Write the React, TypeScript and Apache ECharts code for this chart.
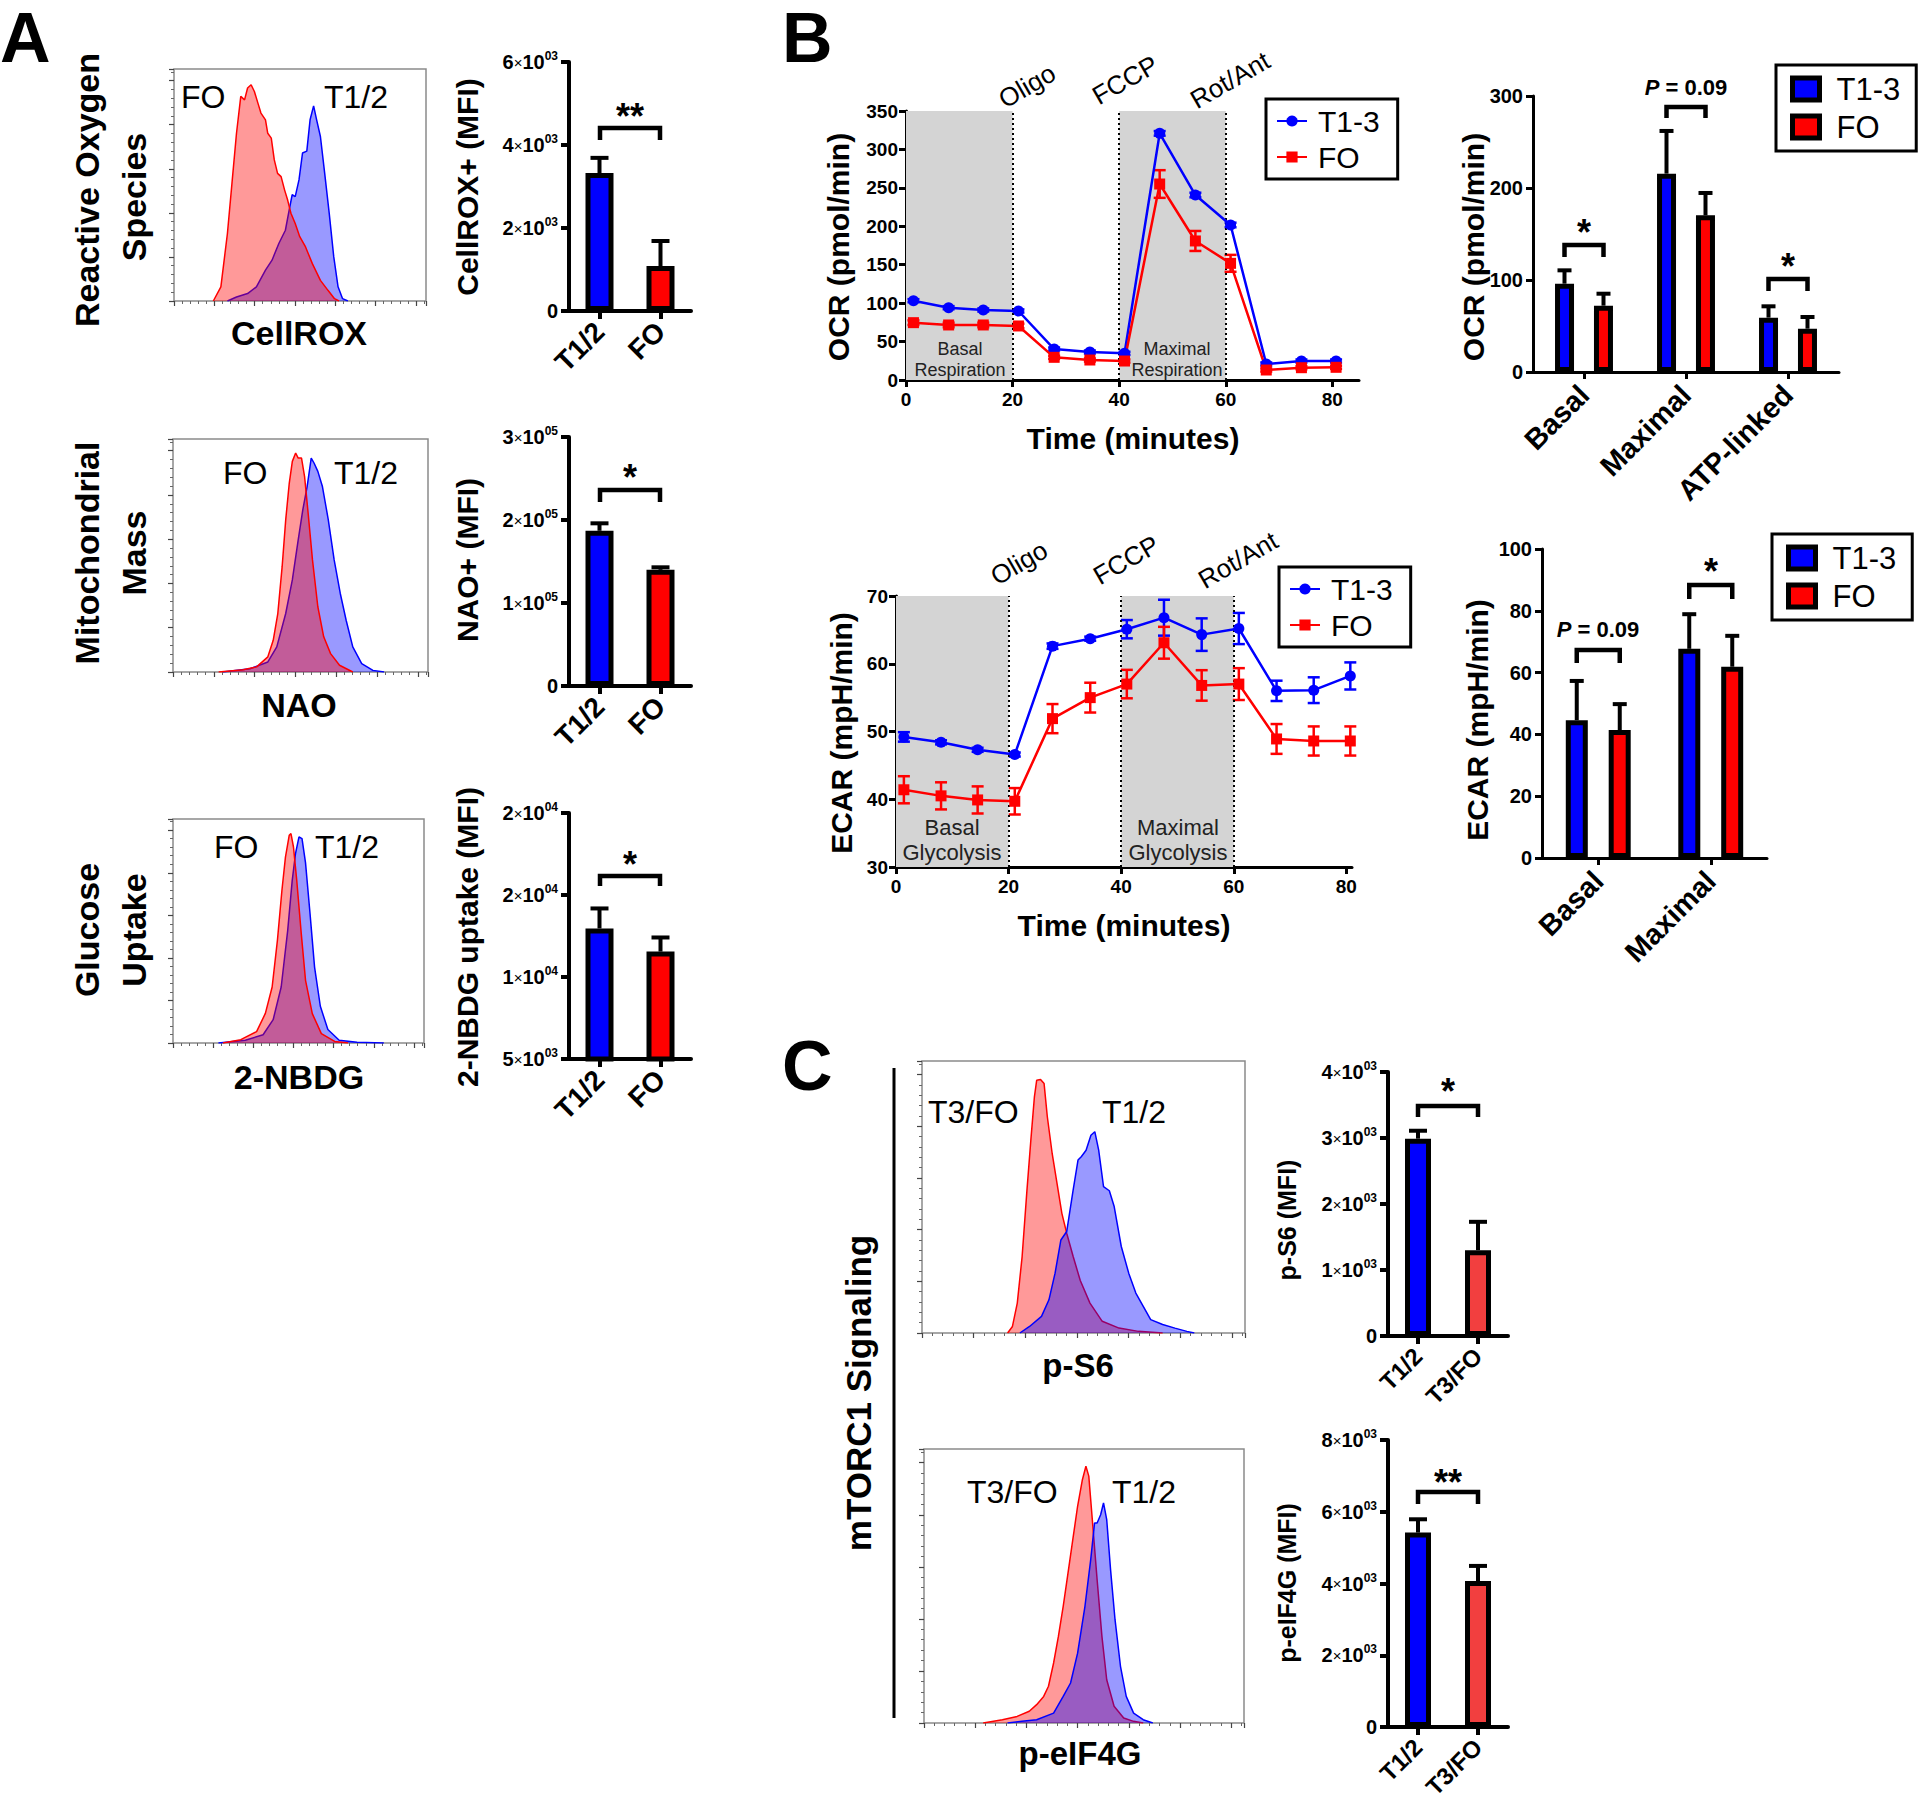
import React, { useEffect, useRef } from "react";
import * as echarts from "echarts";

const FONT = "'Liberation Sans', Arial, Helvetica, sans-serif";
const BLUE = "#0000ff";
const RED = "#ff0000";
const RED_C = "#f23f3f";

// ---------- Flow histograms: [x = % of display width, y = % of modal count] ----------
const roxBlue = [[21.2,0],[24.8,1.7],[29.2,3.2],[32.7,6.1],[36.3,13.3],[38.9,17.6],[41.6,24.8],[44.2,30.5],[45.7,39.2],[46.9,45.8],[48.1,45.0],[49.6,52.2],[51.0,63.8],[52.7,64.6],[54.0,78.1],[55.4,84.1],[56.6,78.1],[58.1,70.9],[59.8,55.0],[61.6,37.8],[63.4,19.0],[65.1,6.1],[66.9,1.0],[69.0,0]];
const roxRed = [[15.6,0],[18.6,6.1],[21.2,29.1],[23.0,50.7],[24.8,72.3],[26.5,88.2],[28.0,86.7],[29.2,91.8],[30.6,93.2],[31.9,90.3],[33.3,85.3],[34.5,81.0],[36.3,78.1],[37.2,72.3],[38.6,70.2],[39.8,60.8],[41.1,55.0],[42.5,53.6],[43.9,47.8],[45.1,43.5],[46.4,37.8],[48.1,33.4],[49.9,27.7],[52.2,23.3],[54.9,16.1],[58.1,8.9],[61.1,4.6],[63.7,1.0],[65.5,0]];
const naoBlue = [[19.6,0],[30.2,1.4],[37.2,4.3],[40.7,10.8],[44.2,25.1],[46.8,39.5],[49.1,56.7],[50.9,69.6],[52.6,79.6],[54.2,91.8],[55.3,89.7],[56.8,86.1],[58.6,79.6],[60.9,65.3],[63.2,48.1],[65.6,33.7],[67.9,22.2],[70.5,10.8],[74.0,3.6],[78.4,0.7],[82.8,0]];
const naoRed = [[17.9,0],[27.5,1.0],[32.8,2.2],[37.2,6.5],[39.3,13.6],[41.1,25.1],[42.8,45.2],[44.2,65.3],[45.6,81.1],[46.8,90.4],[48.1,94.0],[49.1,91.8],[50.4,91.8],[51.6,83.9],[53.0,68.1],[54.7,48.1],[56.8,28.0],[59.1,15.1],[61.8,7.9],[65.3,2.9],[70.5,0]];
const nbdgBlue = [[18.1,0],[28.8,1.2],[35.9,3.7],[39.9,10.4],[43.1,25.0],[45.7,50.3],[47.5,72.6],[48.8,84.5],[50.2,92.0],[51.4,91.2],[52.8,80.4],[54.6,57.7],[56.4,33.9],[58.7,16.4],[61.7,6.0],[66.2,1.2],[73.3,0.3],[84.0,0]];
const nbdgRed = [[19.9,0],[27.0,1.5],[33.3,5.1],[36.8,13.2],[39.5,25.0],[41.6,45.8],[43.4,68.2],[44.8,83.0],[46.3,92.7],[47.0,93.5],[48.0,87.5],[49.3,72.6],[51.1,48.8],[52.8,28.0],[55.5,13.1],[59.1,4.2],[64.4,0.7],[69.8,0]];
const ps6Blue = [[30.3,0],[33.3,2.4],[37.0,6.1],[39.3,12.2],[41.2,22.0],[43.0,34.2],[44.8,37.3],[46.8,52.6],[48.3,63.6],[49.3,64.8],[50.8,67.2],[52.3,72.7],[53.5,74.0],[54.7,67.2],[56.2,53.8],[58.0,52.3],[59.5,46.5],[61.7,31.8],[64.0,22.0],[66.2,14.7],[68.5,9.8],[70.8,4.9],[74.5,3.1],[78.3,1.8],[82.0,0.6],[84.3,0]];
const ps6Red = [[26.5,0],[28.0,2.4],[29.5,11.0],[31.0,28.1],[32.5,52.6],[33.7,70.9],[34.8,86.8],[35.5,92.9],[36.7,93.2],[37.8,91.7],[38.8,79.5],[40.3,66.0],[41.8,55.0],[43.3,44.0],[44.8,36.7],[46.8,28.1],[49.0,19.3],[52.0,11.0],[55.8,4.3],[61.0,1.8],[67.0,0.6],[74.5,0]];
const eifBlue = [[26.1,0],[30.6,0.6],[35.2,1.2],[40.5,3.6],[43.5,9.7],[45.8,14.6],[48.0,25.5],[50.3,42.6],[52.1,59.6],[53.3,73.0],[54.1,73.0],[55.2,76.0],[56.1,80.3],[57.1,74.2],[58.3,56.0],[59.7,37.7],[61.4,20.7],[63.2,9.7],[65.5,3.6],[68.5,1.2],[71.5,0]];
const eifRed = [[18.5,0],[24.5,1.2],[29.1,2.4],[32.9,4.3],[35.2,6.7],[37.4,9.7],[38.9,13.4],[40.5,21.9],[42.0,31.6],[43.5,42.6],[45.0,54.7],[46.5,66.9],[48.0,79.1],[49.5,88.8],[50.6,93.7],[51.5,90.1],[52.6,74.2],[54.1,52.3],[55.6,31.6],[57.1,15.8],[59.4,6.1],[62.4,1.8],[65.5,0.6],[68.5,0]];

// ---------- Panel A bar charts ----------
const aCats = ["T1/2", "FO"];
const roxMean = [3325, 1084];
const roxSem = [365, 603];
const roxTicks = ["0", "2×10^03", "4×10^03", "6×10^03"];
const naoMean = [187000, 140000];
const naoSem = [9000, 3000];
const naoTicks = ["0", "1×10^05", "2×10^05", "3×10^05"];
const nbdgMean = [12960, 11550];
const nbdgSem = [1220, 860];
const nbdgTicks = ["5×10^03", "1×10^04", "2×10^04", "2×10^04"];

// ---------- Panel B Seahorse ----------
const minutes = [1.4, 8.0, 14.5, 21.1, 27.8, 34.5, 41.0, 47.6, 54.3, 60.9, 67.6, 74.2, 80.7];
const timeTicks = [0, 20, 40, 60, 80];
const ocrT13 = [103.2, 94.1, 91.1, 89.8, 40.3, 36.4, 34.7, 320.9, 240.7, 201.7, 20.8, 24.7, 24.7];
const ocrT13Sem = [2, 2, 2, 2, 2, 2, 2, 3, 3, 3, 2, 2, 2];
const ocrFO = [74.6, 71.6, 71.6, 70.3, 29.5, 26.0, 24.7, 255.0, 180.9, 151.8, 13.0, 16.0, 16.5];
const ocrFOSem = [3, 3, 3, 3, 2, 2, 2, 18, 13, 11, 2, 2, 2];
const ecarT13 = [49.2, 48.4, 47.3, 46.6, 62.6, 63.7, 65.1, 66.8, 64.3, 65.2, 56.0, 56.1, 58.2];
const ecarT13Sem = [0.7, 0.3, 0.3, 0.3, 0.4, 0.3, 1.35, 2.65, 2.4, 2.3, 1.5, 1.9, 2.0];
const ecarFO = [41.4, 40.5, 39.9, 39.7, 51.9, 55.0, 57.0, 63.1, 56.8, 57.0, 48.9, 48.6, 48.6];
const ecarFOSem = [2.0, 2.0, 2.0, 1.95, 2.15, 2.2, 2.1, 2.35, 2.25, 2.35, 2.2, 2.15, 2.15];

const ocrCats = ["Basal", "Maximal", "ATP-linked"];
const ocrBarT13 = [96, 215.6, 59.1];
const ocrBarT13Sem = [14.5, 46.4, 12.3];
const ocrBarFO = [72.1, 170.3, 47.1];
const ocrBarFOSem = [13, 24.3, 12.7];
const ecarCats = ["Basal", "Maximal"];
const ecarBarT13 = [44.6, 67.7];
const ecarBarT13Sem = [12.7, 11.2];
const ecarBarFO = [41.4, 61.9];
const ecarBarFOSem = [8.4, 10.0];

// ---------- Panel C ----------
const cCats = ["T1/2", "T3/FO"];
const ps6Mean = [2990, 1300];
const ps6Sem = [120, 430];
const ps6Ticks = ["0", "1×10^03", "2×10^03", "3×10^03", "4×10^03"];
const eifMean = [5420, 4070];
const eifSem = [370, 420];
const eifTicks = ["0", "2×10^03", "4×10^03", "6×10^03", "8×10^03"];

const RICH: any = {
  b: { fontFamily: FONT, fontWeight: "bold", fontSize: 20, lineHeight: 24, color: "#000" },
  x: { fontFamily: FONT, fontWeight: "normal", fontSize: 15, lineHeight: 24, color: "#000" },
  s: { fontFamily: FONT, fontWeight: "bold", fontSize: 12, lineHeight: 13, verticalAlign: "top", color: "#000" },
};

function sciRich(s: string): string {
  const m = /^(\d+)×10\^(\d+)$/.exec(s || "");
  if (!m) return `{b|${s}}`;
  return `{b|${m[1]}}{x|×}{b|10}{s|${m[2]}}`;
}

type Box = { left: number; top: number; width: number; height: number };

function buildOption() {
  const grid: any[] = [];
  const xAxis: any[] = [];
  const yAxis: any[] = [];
  const series: any[] = [];
  const legend: any[] = [];
  const graphic: any[] = [];

  const axisBar = { show: true, lineStyle: { color: "#000", width: 4 } };
  const tickBar = { show: true, length: 8, lineStyle: { color: "#000", width: 4 } };
  const axisLn = { show: true, lineStyle: { color: "#000", width: 3 } };
  const tickLn = { show: true, length: 7, lineStyle: { color: "#000", width: 3 } };

  function errRender(offset: number, capHalf: number, color: string, width: number, both: boolean) {
    return (_params: any, api: any) => {
      const x = api.value(0);
      const m = api.value(1);
      const e = api.value(2);
      const p0 = api.coord([x, m]);
      const pT = api.coord([x, m + e]);
      const pB = api.coord([x, m - e]);
      const cx = p0[0] + offset;
      const st = { stroke: color, lineWidth: width };
      const ch: any[] = [
        { type: "line", shape: { x1: cx, y1: both ? pB[1] : p0[1], x2: cx, y2: pT[1] }, style: st },
        { type: "line", shape: { x1: cx - capHalf, y1: pT[1], x2: cx + capHalf, y2: pT[1] }, style: st },
      ];
      if (both) ch.push({ type: "line", shape: { x1: cx - capHalf, y1: pB[1], x2: cx + capHalf, y2: pB[1] }, style: st });
      return { type: "group", children: ch };
    };
  }

  function hist(b: Box, blue: number[][], red: number[][], blueOnTop: boolean) {
    const gi = grid.length;
    grid.push({ ...b, show: true, borderColor: "#8a8a8a", borderWidth: 1.5, backgroundColor: "transparent", outerBoundsMode: "none", containLabel: false });
    xAxis.push({
      gridIndex: gi, type: "value", min: 0, max: 100, interval: 16,
      axisLine: { show: false },
      axisTick: { show: true, length: 5, lineStyle: { color: "#444", width: 1.2 } },
      minorTick: { show: true, splitNumber: 5, length: 3, lineStyle: { color: "#666", width: 1 } },
      axisLabel: { show: false }, splitLine: { show: false }, minorSplitLine: { show: false },
    });
    yAxis.push({
      gridIndex: gi, type: "value", min: 0, max: 100, interval: 19,
      axisLine: { show: false },
      axisTick: { show: true, length: 5, lineStyle: { color: "#444", width: 1.2 } },
      minorTick: { show: true, splitNumber: 5, length: 3, lineStyle: { color: "#666", width: 1 } },
      axisLabel: { show: false }, splitLine: { show: false }, minorSplitLine: { show: false },
    });
    const xi = xAxis.length - 1;
    const yi = yAxis.length - 1;
    const mk = (d: number[][], c: string, fill: string, z: number) => ({
      type: "line", xAxisIndex: xi, yAxisIndex: yi, data: d, symbol: "none", silent: true,
      lineStyle: { color: c, width: 1.5 }, areaStyle: { color: fill, opacity: 1 }, z,
    });
    series.push(mk(blue, BLUE, "rgba(0,0,255,0.4)", blueOnTop ? 3 : 2));
    series.push(mk(red, RED, "rgba(255,0,0,0.4)", blueOnTop ? 2 : 3));
  }

  function simpleBar(b: Box, cats: string[], means: number[], sems: number[], colors: string[], yMin: number, yMax: number, yInt: number, ticks: string[], barWidth: number, catFont: number) {
    const gi = grid.length;
    grid.push({ ...b, show: false, outerBoundsMode: "none", containLabel: false });
    xAxis.push({
      gridIndex: gi, type: "category", data: cats,
      axisLine: axisBar, axisTick: { ...tickBar, alignWithLabel: true },
      axisLabel: { rotate: 45, interval: 0, fontFamily: FONT, fontWeight: "bold", fontSize: catFont, color: "#000", margin: 16 },
      splitLine: { show: false },
    });
    yAxis.push({
      gridIndex: gi, type: "value", min: yMin, max: yMax, interval: yInt,
      axisLine: axisBar, axisTick: tickBar, splitLine: { show: false },
      axisLabel: { margin: 11, showMinLabel: true, showMaxLabel: true, formatter: (v: number) => sciRich(ticks[Math.round((v - yMin) / yInt)] ?? ""), rich: RICH },
    });
    const xi = xAxis.length - 1;
    const yi = yAxis.length - 1;
    series.push({
      type: "bar", xAxisIndex: xi, yAxisIndex: yi, barWidth, silent: true, z: 2,
      data: means.map((m, i) => ({ value: m, itemStyle: { color: colors[i], borderColor: "#000", borderWidth: 5 } })),
    });
    series.push({
      type: "custom", xAxisIndex: xi, yAxisIndex: yi, silent: true, z: 3, encode: { x: 0, y: 1 },
      data: means.map((m, i) => [i, m, sems[i]]),
      renderItem: errRender(0, 9, "#000", 4, false),
    });
  }

  function groupBar(b: Box, key: string, cats: string[], t13: number[], t13s: number[], fo: number[], fos: number[], yMax: number, yInt: number, barWidth: number, barGap: string, offset: number, leg: any) {
    const gi = grid.length;
    grid.push({ ...b, show: false, outerBoundsMode: "none", containLabel: false });
    xAxis.push({
      gridIndex: gi, type: "category", data: cats,
      axisLine: axisLn, axisTick: { ...tickLn, alignWithLabel: true },
      axisLabel: { rotate: 45, interval: 0, fontFamily: FONT, fontWeight: "bold", fontSize: 29, color: "#000", margin: 18 },
      splitLine: { show: false },
    });
    yAxis.push({
      gridIndex: gi, type: "value", min: 0, max: yMax, interval: yInt,
      axisLine: axisLn, axisTick: tickLn, splitLine: { show: false },
      axisLabel: { margin: 10, fontFamily: FONT, fontWeight: "bold", fontSize: 20, color: "#000" },
    });
    const xi = xAxis.length - 1;
    const yi = yAxis.length - 1;
    const bar = (name: string, d: number[], c: string) => ({
      type: "bar", name, xAxisIndex: xi, yAxisIndex: yi, data: d, barWidth, barGap, silent: true, z: 2,
      itemStyle: { color: c, borderColor: "#000", borderWidth: 5 },
    });
    series.push(bar(`T1-3|${key}`, t13, BLUE));
    series.push(bar(`FO|${key}`, fo, RED));
    const err = (d: number[], s: number[], off: number) => ({
      type: "custom", xAxisIndex: xi, yAxisIndex: yi, silent: true, z: 3, encode: { x: 0, y: 1 },
      data: d.map((m, i) => [i, m, s[i]]),
      renderItem: errRender(off, 7, "#000", 4, false),
    });
    series.push(err(t13, t13s, -offset));
    series.push(err(fo, fos, offset));
    legend.push({
      show: true, selectedMode: false, orient: "vertical", ...leg,
      data: [`T1-3|${key}`, `FO|${key}`],
      formatter: (n: string) => n.split("|")[0],
      icon: "rect", itemWidth: 27, itemHeight: 22, itemGap: 6,
      itemStyle: { borderColor: "#000", borderWidth: 5 },
      textStyle: { fontFamily: FONT, fontSize: 31, color: "#000", lineHeight: 32, padding: [0, 0, 0, 12] },
      padding: [8, 16, 8, 14], borderColor: "#000", borderWidth: 3, backgroundColor: "#fff",
    });
  }

  function timeCourse(b: Box, key: string, xMax: number, yMin: number, yMax: number, yInt: number, t13: number[], t13s: number[], fo: number[], fos: number[], leg: any) {
    const gi = grid.length;
    grid.push({ ...b, show: false, outerBoundsMode: "none", containLabel: false });
    xAxis.push({
      gridIndex: gi, type: "value", min: 0, max: xMax,
      axisLine: axisLn,
      axisTick: { ...tickLn, customValues: timeTicks },
      axisLabel: { customValues: timeTicks, margin: 10, fontFamily: FONT, fontWeight: "bold", fontSize: 19, color: "#000",
        formatter: (v: number) => (v % 20 === 0 ? String(v) : "") },
      splitLine: { show: false },
    });
    yAxis.push({
      gridIndex: gi, type: "value", min: yMin, max: yMax, interval: yInt,
      axisLine: axisLn, axisTick: tickLn, splitLine: { show: false },
      axisLabel: { margin: 8, fontFamily: FONT, fontWeight: "bold", fontSize: 19, color: "#000" },
    });
    const xi = xAxis.length - 1;
    const yi = yAxis.length - 1;
    series.push({
      type: "line", xAxisIndex: xi, yAxisIndex: yi, data: [], z: 1, silent: true,
      markArea: { silent: true, itemStyle: { color: "#d4d4d4" }, data: [[{ xAxis: 0 }, { xAxis: 20 }], [{ xAxis: 40 }, { xAxis: 60 }]] },
      markLine: {
        silent: true, symbol: ["none", "none"], label: { show: false },
        lineStyle: { color: "#000", type: [2, 3], width: 2 },
        data: [{ xAxis: 20 }, { xAxis: 40 }, { xAxis: 60 }],
      },
    });
    const err = (d: number[], s: number[], c: string) => ({
      type: "custom", xAxisIndex: xi, yAxisIndex: yi, silent: true, z: 4, encode: { x: 0, y: 1 },
      data: d.map((m, i) => [minutes[i], m, s[i]]),
      renderItem: errRender(0, 6, c, 2.5, true),
    });
    series.push(err(t13, t13s, BLUE));
    series.push(err(fo, fos, RED));
    series.push({
      type: "line", name: `T1-3|${key}`, xAxisIndex: xi, yAxisIndex: yi, z: 5, silent: true,
      data: minutes.map((t, i) => [t, t13[i]]), symbol: "circle", symbolSize: 11,
      lineStyle: { color: BLUE, width: 2.5 }, itemStyle: { color: BLUE },
    });
    series.push({
      type: "line", name: `FO|${key}`, xAxisIndex: xi, yAxisIndex: yi, z: 5, silent: true,
      data: minutes.map((t, i) => [t, fo[i]]), symbol: "rect", symbolSize: 11,
      lineStyle: { color: RED, width: 2.5 }, itemStyle: { color: RED },
    });
    legend.push({
      show: true, selectedMode: false, orient: "vertical", ...leg,
      data: [`T1-3|${key}`, `FO|${key}`],
      formatter: (n: string) => n.split("|")[0],
      itemWidth: 30, itemHeight: 14, itemGap: 4,
      textStyle: { fontFamily: FONT, fontSize: 30, color: "#000", lineHeight: 32, padding: [0, 0, 0, 6] },
      padding: [6, 18, 6, 10], borderColor: "#000", borderWidth: 3, backgroundColor: "#fff",
    });
  }

  const txt = (text: string, x: number, y: number, size: number, o: any = {}) => ({
    type: "text", x, y, rotation: o.rot || 0, silent: true, z: 100,
    style: {
      text, fontSize: size, fontWeight: o.bold ? "bold" : "normal", fontFamily: FONT,
      fill: o.color || "#000", align: o.align || "center", verticalAlign: "middle", rich: o.rich,
    },
  });
  const V = Math.PI / 2;
  const D30 = Math.PI / 6;
  const bracket = (x1: number, x2: number, yTop: number, yLeg: number) => ({
    type: "polyline", silent: true, z: 100,
    shape: { points: [[x1, yLeg], [x1, yTop], [x2, yTop], [x2, yLeg]] },
    style: { stroke: "#000", lineWidth: 4.5, fill: null },
  });
  const pRich = { i: { fontStyle: "italic", fontWeight: "bold", fontSize: 22, fontFamily: FONT, fill: "#000" } };

  // ---------------- Panel A ----------------
  hist({ left: 174, top: 69, width: 252, height: 232 }, roxBlue, roxRed, false);
  hist({ left: 173, top: 439, width: 255, height: 233 }, naoBlue, naoRed, false);
  hist({ left: 173, top: 819, width: 251, height: 224 }, nbdgBlue, nbdgRed, false);
  simpleBar({ left: 569, top: 62, width: 122, height: 249 }, aCats, roxMean, roxSem, [BLUE, RED], 0, 6000, 2000, roxTicks, 28, 28);
  simpleBar({ left: 569, top: 437, width: 122, height: 249 }, aCats, naoMean, naoSem, [BLUE, RED], 0, 300000, 100000, naoTicks, 28, 28);
  simpleBar({ left: 569, top: 813, width: 122, height: 246 }, aCats, nbdgMean, nbdgSem, [BLUE, RED], 5000, 20000, 5000, nbdgTicks, 28, 28);

  graphic.push(
    txt("A", 0, 38, 70, { bold: true, align: "left" }),
    txt("Reactive Oxygen", 87, 190, 34, { bold: true, rot: V }),
    txt("Species", 134, 197, 34, { bold: true, rot: V }),
    txt("FO", 181, 97, 32, { align: "left" }),
    txt("T1/2", 324, 97, 32, { align: "left" }),
    txt("CellROX", 299, 333, 34, { bold: true }),
    txt("CellROX+ (MFI)", 467, 187, 30, { bold: true, rot: V }),
    txt("**", 630, 116, 36, { bold: true }),
    bracket(600, 660, 128, 140),
    txt("Mitochondrial", 87, 553, 34, { bold: true, rot: V }),
    txt("Mass", 134, 553, 34, { bold: true, rot: V }),
    txt("FO", 223, 473, 32, { align: "left" }),
    txt("T1/2", 334, 473, 32, { align: "left" }),
    txt("NAO", 299, 705, 34, { bold: true }),
    txt("NAO+ (MFI)", 467, 560, 30, { bold: true, rot: V }),
    txt("*", 630, 477, 36, { bold: true }),
    bracket(600, 660, 490, 502),
    txt("Glucose", 87, 930, 34, { bold: true, rot: V }),
    txt("Uptake", 134, 930, 34, { bold: true, rot: V }),
    txt("FO", 214, 847, 32, { align: "left" }),
    txt("T1/2", 315, 847, 32, { align: "left" }),
    txt("2-NBDG", 299, 1077, 34, { bold: true }),
    txt("2-NBDG uptake (MFI)", 467, 937, 30, { bold: true, rot: V }),
    txt("*", 630, 864, 36, { bold: true }),
    bracket(600, 660, 876, 886),
  );

  // ---------------- Panel B ----------------
  timeCourse({ left: 906, top: 111, width: 453, height: 269 }, "ocr", 85, 0, 350, 50, ocrT13, ocrT13Sem, ocrFO, ocrFOSem, { left: 1266, top: 99 });
  groupBar({ left: 1533, top: 96, width: 306, height: 276 }, "ocrbar", ocrCats, ocrBarT13, ocrBarT13Sem, ocrBarFO, ocrBarFOSem, 300, 100, 19, "105%", 19.5, { left: 1776, top: 65 });
  timeCourse({ left: 896, top: 596, width: 456, height: 271 }, "ecar", 81, 30, 70, 10, ecarT13, ecarT13Sem, ecarFO, ecarFOSem, { left: 1279, top: 567 });
  groupBar({ left: 1542, top: 549, width: 225, height: 309 }, "ecarbar", ecarCats, ecarBarT13, ecarBarT13Sem, ecarBarFO, ecarBarFOSem, 100, 20, 22, "95%", 21.5, { left: 1772, top: 534 });

  graphic.push(
    txt("B", 782, 38, 70, { bold: true, align: "left" }),
    txt("Oligo", 1027, 86, 26, { rot: D30 }),
    txt("FCCP", 1125, 80, 26, { rot: D30 }),
    txt("Rot/Ant", 1230, 80, 26, { rot: D30 }),
    txt("Basal", 960, 349, 18, { color: "#222" }),
    txt("Respiration", 960, 370, 18, { color: "#222" }),
    txt("Maximal", 1177, 349, 18, { color: "#222" }),
    txt("Respiration", 1177, 370, 18, { color: "#222" }),
    txt("Time (minutes)", 1133, 438, 30, { bold: true }),
    txt("OCR (pmol/min)", 838, 247, 30, { bold: true, rot: V }),
    txt("OCR (pmol/min)", 1473, 247, 30, { bold: true, rot: V }),
    txt("*", 1584, 232, 36, { bold: true }),
    bracket(1564.5, 1603.5, 245, 257),
    { type: "text", x: 1686, y: 87, silent: true, z: 100, style: { text: "{i|P} = 0.09", rich: pRich, fontSize: 22, fontWeight: "bold", fontFamily: FONT, fill: "#000", align: "center", verticalAlign: "middle" } },
    bracket(1666.5, 1705.5, 107, 118),
    txt("*", 1788, 266, 36, { bold: true }),
    bracket(1768.5, 1807.5, 279, 291),

    txt("Oligo", 1019, 563, 26, { rot: D30 }),
    txt("FCCP", 1126, 560, 26, { rot: D30 }),
    txt("Rot/Ant", 1238, 560, 26, { rot: D30 }),
    txt("Basal", 952, 827, 22, { color: "#222" }),
    txt("Glycolysis", 952, 852, 22, { color: "#222" }),
    txt("Maximal", 1178, 827, 22, { color: "#222" }),
    txt("Glycolysis", 1178, 852, 22, { color: "#222" }),
    txt("Time (minutes)", 1124, 925, 30, { bold: true }),
    txt("ECAR (mpH/min)", 841, 733, 30, { bold: true, rot: V }),
    txt("ECAR (mpH/min)", 1477, 720, 30, { bold: true, rot: V }),
    { type: "text", x: 1598, y: 629, silent: true, z: 100, style: { text: "{i|P} = 0.09", rich: pRich, fontSize: 22, fontWeight: "bold", fontFamily: FONT, fill: "#000", align: "center", verticalAlign: "middle" } },
    bracket(1576.75, 1619.75, 650, 663),
    txt("*", 1711, 571, 36, { bold: true }),
    bracket(1689.25, 1732.25, 585, 599),
  );

  // ---------------- Panel C ----------------
  hist({ left: 922, top: 1061, width: 323, height: 272 }, ps6Blue, ps6Red, true);
  hist({ left: 924, top: 1449, width: 320, height: 274 }, eifBlue, eifRed, true);
  simpleBar({ left: 1388, top: 1072, width: 120, height: 264 }, cCats, ps6Mean, ps6Sem, [BLUE, RED_C], 0, 4000, 1000, ps6Ticks, 26, 24);
  simpleBar({ left: 1388, top: 1440, width: 120, height: 287 }, cCats, eifMean, eifSem, [BLUE, RED_C], 0, 8000, 2000, eifTicks, 26, 24);

  graphic.push(
    txt("C", 782, 1066, 70, { bold: true, align: "left" }),
    { type: "line", silent: true, z: 100, shape: { x1: 894, y1: 1068, x2: 894, y2: 1718 }, style: { stroke: "#000", lineWidth: 3 } },
    txt("mTORC1 Signaling", 858, 1393, 35, { bold: true, rot: V }),
    txt("T3/FO", 928, 1112, 32, { align: "left" }),
    txt("T1/2", 1102, 1112, 32, { align: "left" }),
    txt("p-S6", 1078, 1365, 33, { bold: true }),
    txt("p-S6 (MFI)", 1287, 1220, 25, { bold: true, rot: V }),
    txt("*", 1448, 1091, 36, { bold: true }),
    bracket(1418, 1478, 1106, 1117),
    txt("T3/FO", 967, 1492, 32, { align: "left" }),
    txt("T1/2", 1112, 1492, 32, { align: "left" }),
    txt("p-eIF4G", 1080, 1753, 33, { bold: true }),
    txt("p-eIF4G (MFI)", 1287, 1583, 25, { bold: true, rot: V }),
    txt("**", 1448, 1482, 36, { bold: true }),
    bracket(1418, 1478, 1492, 1504),
  );

  return {
    animation: false,
    backgroundColor: "#ffffff",
    textStyle: { fontFamily: FONT },
    grid, xAxis, yAxis, series, legend, graphic,
  };
}

export default function App() {
  const ref = useRef<HTMLDivElement>(null);
  useEffect(() => {
    document.body.style.margin = "0";
    const chart = echarts.init(ref.current as HTMLDivElement, null, { renderer: "svg" });
    chart.setOption(buildOption() as any);
    return () => chart.dispose();
  }, []);
  return <div ref={ref} style={{ width: 1920, height: 1809, background: "#fff" }} />;
}
